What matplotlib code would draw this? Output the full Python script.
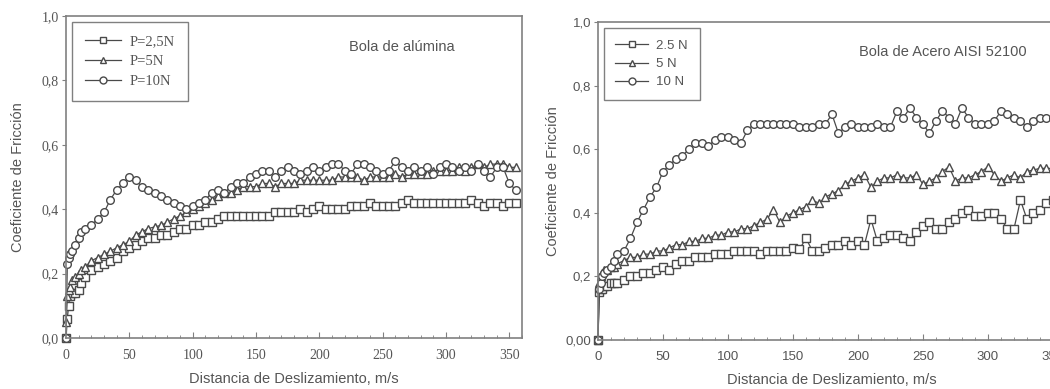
import matplotlib.pyplot as plt
from matplotlib.ticker import MultipleLocator

# sliding distance (m) at which friction was sampled
dist = [0, 1, 2, 3, 5, 7, 10, 12, 15, 20, 25, 30, 35, 40, 45, 50, 55, 60, 65, 70,
        75, 80, 85, 90, 95, 100, 105, 110, 115, 120, 125, 130, 135, 140, 145, 150,
        155, 160, 165, 170, 175, 180, 185, 190, 195, 200, 205, 210, 215, 220, 225,
        230, 235, 240, 245, 250, 255, 260, 265, 270, 275, 280, 285, 290, 295, 300,
        305, 310, 315, 320, 325, 330, 335, 340, 345, 350, 355]

# alumina ball
alu_25 = [0.00, 0.06, 0.10, 0.13, 0.14, 0.14, 0.15, 0.17, 0.19, 0.21, 0.22, 0.23,
          0.24, 0.25, 0.27, 0.28, 0.29, 0.30, 0.31, 0.31, 0.32, 0.32, 0.33, 0.34,
          0.34, 0.35, 0.35, 0.36, 0.36, 0.37, 0.38, 0.38, 0.38, 0.38, 0.38, 0.38,
          0.38, 0.38, 0.39, 0.39, 0.39, 0.39, 0.40, 0.39, 0.40, 0.41, 0.40, 0.40,
          0.40, 0.40, 0.41, 0.41, 0.41, 0.42, 0.41, 0.41, 0.41, 0.41, 0.42, 0.43,
          0.42, 0.42, 0.42, 0.42, 0.42, 0.42, 0.42, 0.42, 0.42, 0.43, 0.42, 0.41,
          0.42, 0.42, 0.41, 0.42, 0.42]
alu_5 = [0.05, 0.13, 0.15, 0.16, 0.18, 0.19, 0.20, 0.21, 0.22, 0.24, 0.25, 0.26,
         0.27, 0.28, 0.29, 0.30, 0.32, 0.33, 0.34, 0.345, 0.35, 0.36, 0.37, 0.38,
         0.39, 0.40, 0.41, 0.42, 0.43, 0.44, 0.45, 0.45, 0.46, 0.47, 0.47, 0.47,
         0.48, 0.48, 0.47, 0.48, 0.48, 0.48, 0.49, 0.49, 0.49, 0.49, 0.49, 0.49,
         0.50, 0.50, 0.50, 0.50, 0.49, 0.50, 0.50, 0.50, 0.50, 0.51, 0.50, 0.51,
         0.51, 0.51, 0.51, 0.52, 0.52, 0.52, 0.52, 0.53, 0.52, 0.53, 0.54, 0.53,
         0.54, 0.54, 0.54, 0.53, 0.53]
alu_10 = [0.00, 0.23, 0.25, 0.26, 0.27, 0.29, 0.31, 0.33, 0.34, 0.35, 0.37, 0.39,
          0.43, 0.46, 0.48, 0.50, 0.49, 0.47, 0.46, 0.45, 0.44, 0.43, 0.42, 0.41,
          0.40, 0.41, 0.42, 0.43, 0.45, 0.46, 0.45, 0.47, 0.48, 0.48, 0.50, 0.51,
          0.52, 0.52, 0.50, 0.52, 0.53, 0.52, 0.51, 0.52, 0.53, 0.52, 0.53, 0.54,
          0.54, 0.52, 0.51, 0.54, 0.54, 0.53, 0.52, 0.51, 0.52, 0.55, 0.53, 0.52,
          0.53, 0.52, 0.53, 0.51, 0.53, 0.54, 0.53, 0.52, 0.53, 0.52, 0.54, 0.52,
          0.50, 0.53, 0.53, 0.48, 0.46]

# AISI 52100 steel ball
ace_25 = [0.00, 0.15, 0.16, 0.16, 0.17, 0.17, 0.18, 0.18, 0.18, 0.19, 0.20, 0.20,
          0.21, 0.21, 0.22, 0.23, 0.22, 0.24, 0.25, 0.25, 0.26, 0.26, 0.26, 0.27,
          0.27, 0.27, 0.28, 0.28, 0.28, 0.28, 0.27, 0.28, 0.28, 0.28, 0.28, 0.29,
          0.285, 0.32, 0.28, 0.28, 0.29, 0.30, 0.30, 0.31, 0.30, 0.31, 0.30, 0.38,
          0.31, 0.32, 0.33, 0.33, 0.32, 0.31, 0.34, 0.36, 0.37, 0.35, 0.35, 0.37,
          0.38, 0.40, 0.41, 0.39, 0.39, 0.40, 0.40, 0.38, 0.35, 0.35, 0.44, 0.38,
          0.40, 0.41, 0.43, 0.44, 0.44]
ace_5 = [0.00, 0.18, 0.20, 0.21, 0.22, 0.22, 0.23, 0.23, 0.24, 0.25, 0.26, 0.26,
         0.27, 0.27, 0.28, 0.28, 0.29, 0.30, 0.30, 0.31, 0.31, 0.32, 0.32, 0.33,
         0.33, 0.34, 0.34, 0.35, 0.35, 0.36, 0.37, 0.38, 0.41, 0.37, 0.39, 0.40,
         0.41, 0.42, 0.44, 0.43, 0.45, 0.46, 0.47, 0.49, 0.50, 0.51, 0.52, 0.48,
         0.50, 0.51, 0.51, 0.52, 0.51, 0.51, 0.52, 0.49, 0.50, 0.51, 0.53, 0.545,
         0.50, 0.51, 0.51, 0.52, 0.53, 0.545, 0.52, 0.50, 0.51, 0.52, 0.51, 0.53,
         0.535, 0.54, 0.54, 0.54, 0.54]
ace_10 = [0.00, 0.16, 0.18, 0.20, 0.21, 0.22, 0.23, 0.25, 0.27, 0.28, 0.32, 0.37,
          0.41, 0.45, 0.48, 0.53, 0.55, 0.57, 0.58, 0.60, 0.62, 0.62, 0.61, 0.63,
          0.64, 0.64, 0.63, 0.62, 0.66, 0.68, 0.68, 0.68, 0.68, 0.68, 0.68, 0.68,
          0.67, 0.67, 0.67, 0.68, 0.68, 0.71, 0.65, 0.67, 0.68, 0.67, 0.67, 0.67,
          0.68, 0.67, 0.67, 0.72, 0.70, 0.73, 0.70, 0.68, 0.65, 0.69, 0.72, 0.70,
          0.68, 0.73, 0.70, 0.68, 0.68, 0.68, 0.69, 0.72, 0.71, 0.70, 0.69, 0.67,
          0.69, 0.70, 0.70, 0.70, 0.70]

ink = '#4a4a4a'
frame = '#808080'
txt = '#555555'
serif = ['Liberation Serif', 'DejaVu Serif']
sans = ['Liberation Sans', 'DejaVu Sans']

fig = plt.figure(figsize=(10.5, 3.89), dpi=100)
ax1 = fig.add_axes([0.0629, 0.131, 0.4343, 0.828])
ax2 = fig.add_axes([0.5695, 0.126, 0.4457, 0.817])


def draw_panel(ax, series, labels, note, ylabels, tickfont, ticksize,
               ylabelpad, legsize):
    markers = ['s', '^', 'o']
    for y, lab, m in zip(series, labels, markers):
        ax.plot(dist, y, color=ink, lw=0.9, marker=m, ms=5.5, mfc='white',
                mec=ink, mew=1.0, label=lab, clip_on=False)
    ax.set_xlim(0, 360)
    ax.set_ylim(0, 1.0)
    ax.set_xticks([0, 50, 100, 150, 200, 250, 300, 350])
    ax.set_xticklabels(['0', '50', '100', '150', '200', '250', '300', '350'],
                       family=tickfont, color=txt, fontsize=ticksize)
    ax.xaxis.set_minor_locator(MultipleLocator(10))
    ax.set_yticks([0, 0.2, 0.4, 0.6, 0.8, 1.0])
    ax.set_yticklabels(ylabels, family=tickfont, color=txt, fontsize=ticksize)
    ax.tick_params(axis='x', which='major', direction='in', length=4,
                   color=frame, pad=8)
    ax.tick_params(axis='x', which='minor', direction='in', length=2,
                   color=frame)
    ax.tick_params(axis='y', direction='out', length=3, color=frame, pad=2)
    for s in ax.spines.values():
        s.set_color(frame)
        s.set_linewidth(1.2)
    ax.set_xlabel('Distancia de Deslizamiento, m/s', family=sans,
                  fontsize=10.5, color=txt, labelpad=7)
    ax.set_ylabel('Coeficiente de Fricción', family=sans, fontsize=10.5,
                  color=txt, labelpad=ylabelpad)
    ax.text(265, 0.905, note, family=sans, fontsize=10.5, color=txt,
            ha='center', va='center')
    leg = ax.legend(loc='upper left', bbox_to_anchor=(0.012, 0.982),
                    fancybox=False, framealpha=1, edgecolor=frame,
                    handlelength=2.5, handletextpad=0.6, labelspacing=0.45,
                    borderpad=0.9, borderaxespad=0,
                    prop={'family': tickfont, 'size': legsize})
    leg.get_frame().set_linewidth(1.0)
    for t in leg.get_texts():
        t.set_color(txt)
    for h in leg.legend_handles:
        h.set_markersize(5)


draw_panel(ax1, [alu_25, alu_5, alu_10], ['P=2,5N', 'P=5N', 'P=10N'],
           'Bola de alúmina', ['0,0', '0,2', '0,4', '0,6', '0,8', '1,0'],
           serif, 10, 12, 10.5)
draw_panel(ax2, [ace_25, ace_5, ace_10], ['2.5 N', '5 N', '10 N'],
           'Bola de Acero AISI 52100',
           ['0,00', '0,2', '0,4', '0,6', '0,8', '1,0'], sans, 9.5, 4, 9.5)

fig.savefig('out.png', dpi=100)
